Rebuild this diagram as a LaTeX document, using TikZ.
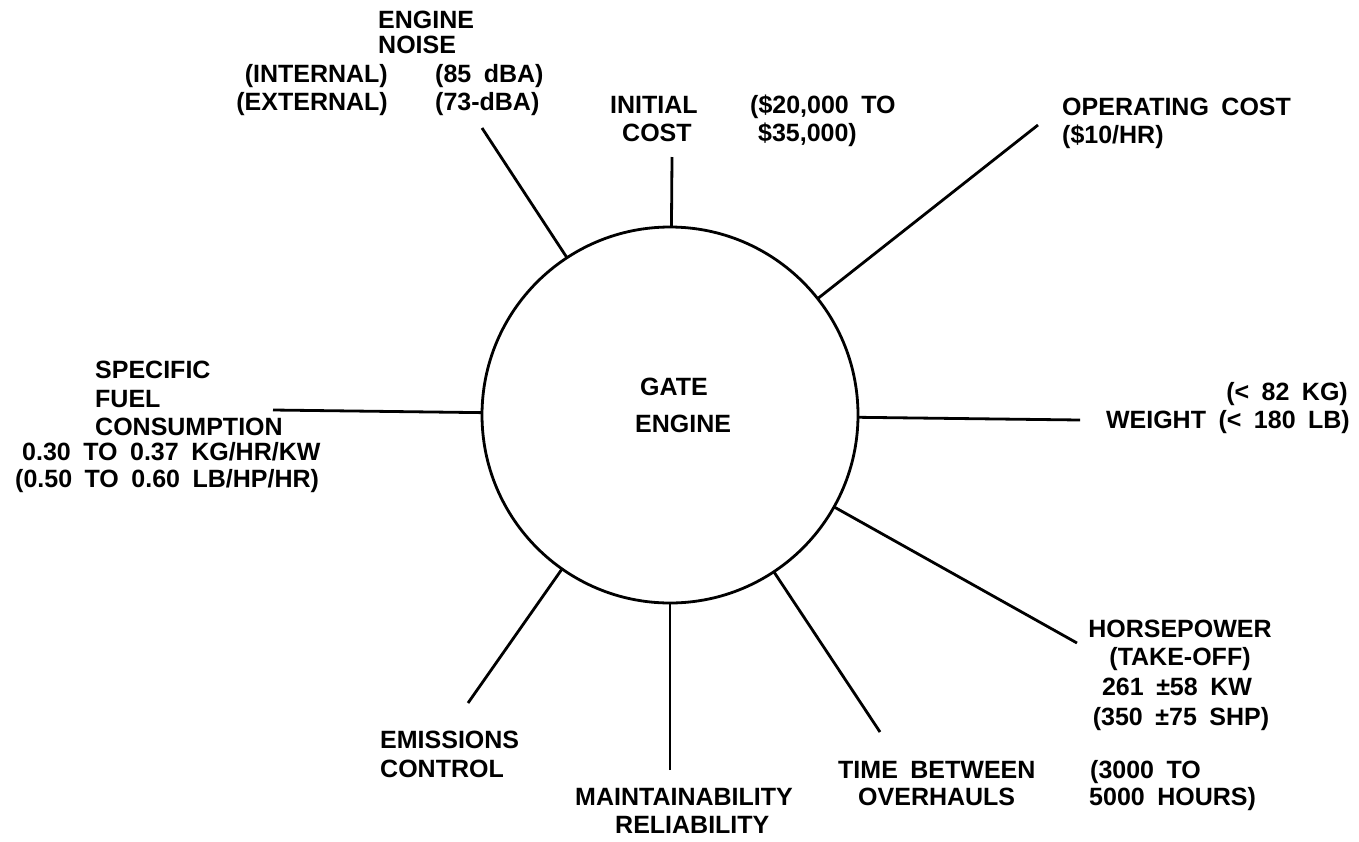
\documentclass[tikz,border=0pt]{standalone}
\usepackage{fontspec}
\setmainfont{Liberation Sans}
\newcommand\lblfont{\bfseries\fontsize{25}{30}\selectfont\spaceskip 0.5em\relax}
\begin{document}
\begin{tikzpicture}[x=1pt,y=-1pt,
  conn/.style={line width=2.8pt},
  lbl/.style={inner sep=0pt,font=\lblfont},
  lw/.style={lbl,anchor=base west},
  lc/.style={lbl,anchor=base},
  le/.style={lbl,anchor=base east}]
\useasboundingbox (0,0) rectangle (1359,841);
\node[circle,draw,line width=2.8pt,minimum size=376pt,inner sep=0pt,outer sep=0pt] (gate) at (670,415) {};
\node[lw] (gt1) at (640,395) {GATE};
\node[lw] (gt2) at (635,432) {ENGINE};
% end coordinates
\coordinate (noiseE) at (482,128);
\coordinate (initE) at (672,157);
\coordinate (operE) at (1038,125);
\coordinate (weightE) at (1080,420);
\coordinate (sfcE) at (273,410);
\coordinate (hpE) at (1077,643);
\coordinate (tboE) at (880,732);
\coordinate (maintE) at (670,770);
\coordinate (emisE) at (468,703);
\foreach \e in {noiseE,initE,operE,weightE,sfcE,hpE,tboE,maintE,emisE}
  \draw[conn] (\e) -- (gate);
% engine noise
\node[lw] (n1) at (378,28) {ENGINE};
\node[lw] (n2) at (378,53) {NOISE};
\node[le] (n3) at (388,82) {(INTERNAL)};
\node[lw] (n4) at (435,82) {(85 dBA)};
\node[le] (n5) at (388,110) {(EXTERNAL)};
\node[lw] (n6) at (435,110) {(73-dBA)};
% initial cost
\node[lw] (i1) at (610,113) {INITIAL};
\node[lw] (i2) at (622,141) {COST};
\node[lw] (i3) at (750,113) {(\$20,000 TO};
\node[le] (i4) at (857,141) {\$35,000)};
% operating cost
\node[lw] (o1) at (1062,115) {OPERATING COST};
\node[lw] (o2) at (1062,143) {(\$10/HR)};
% sfc
\node[lw] (s1) at (95,378) {SPECIFIC};
\node[lw] (s2) at (95,407) {FUEL};
\node[lw] (s3) at (95,435) {CONSUMPTION};
\node[lw] (s4) at (22,460) {0.30 TO 0.37 KG/HR/KW};
\node[lw] (s5) at (15,487) {(0.50 TO 0.60 LB/HP/HR)};
% weight
\node[le] (w1) at (1348,400) {(< 82 KG)};
\node[le] (w2) at (1350,428) {WEIGHT (< 180 LB)};
% horsepower
\node[lc] (h1) at (1180,637) {HORSEPOWER};
\node[lc] (h2) at (1180,665) {(TAKE-OFF)};
\node[lc] (h3) at (1177,695) {261 ±58 KW};
\node[lc] (h4) at (1181,725) {(350 ±75 SHP)};
% tbo
\node[lw] (t1) at (838,778) {TIME BETWEEN};
\node[lw] (t2) at (858,805) {OVERHAULS};
\node[lw] (t3) at (1090,778) {(3000 TO};
\node[lw] (t4) at (1089,805) {5000 HOURS)};
% maintainability
\node[lw] (m1) at (575,805) {MAINTAINABILITY};
\node[lw] (m2) at (615,833) {RELIABILITY};
% emissions
\node[lw] (e1) at (380,748) {EMISSIONS};
\node[lw] (e2) at (380,777) {CONTROL};
\end{tikzpicture}
\end{document}
